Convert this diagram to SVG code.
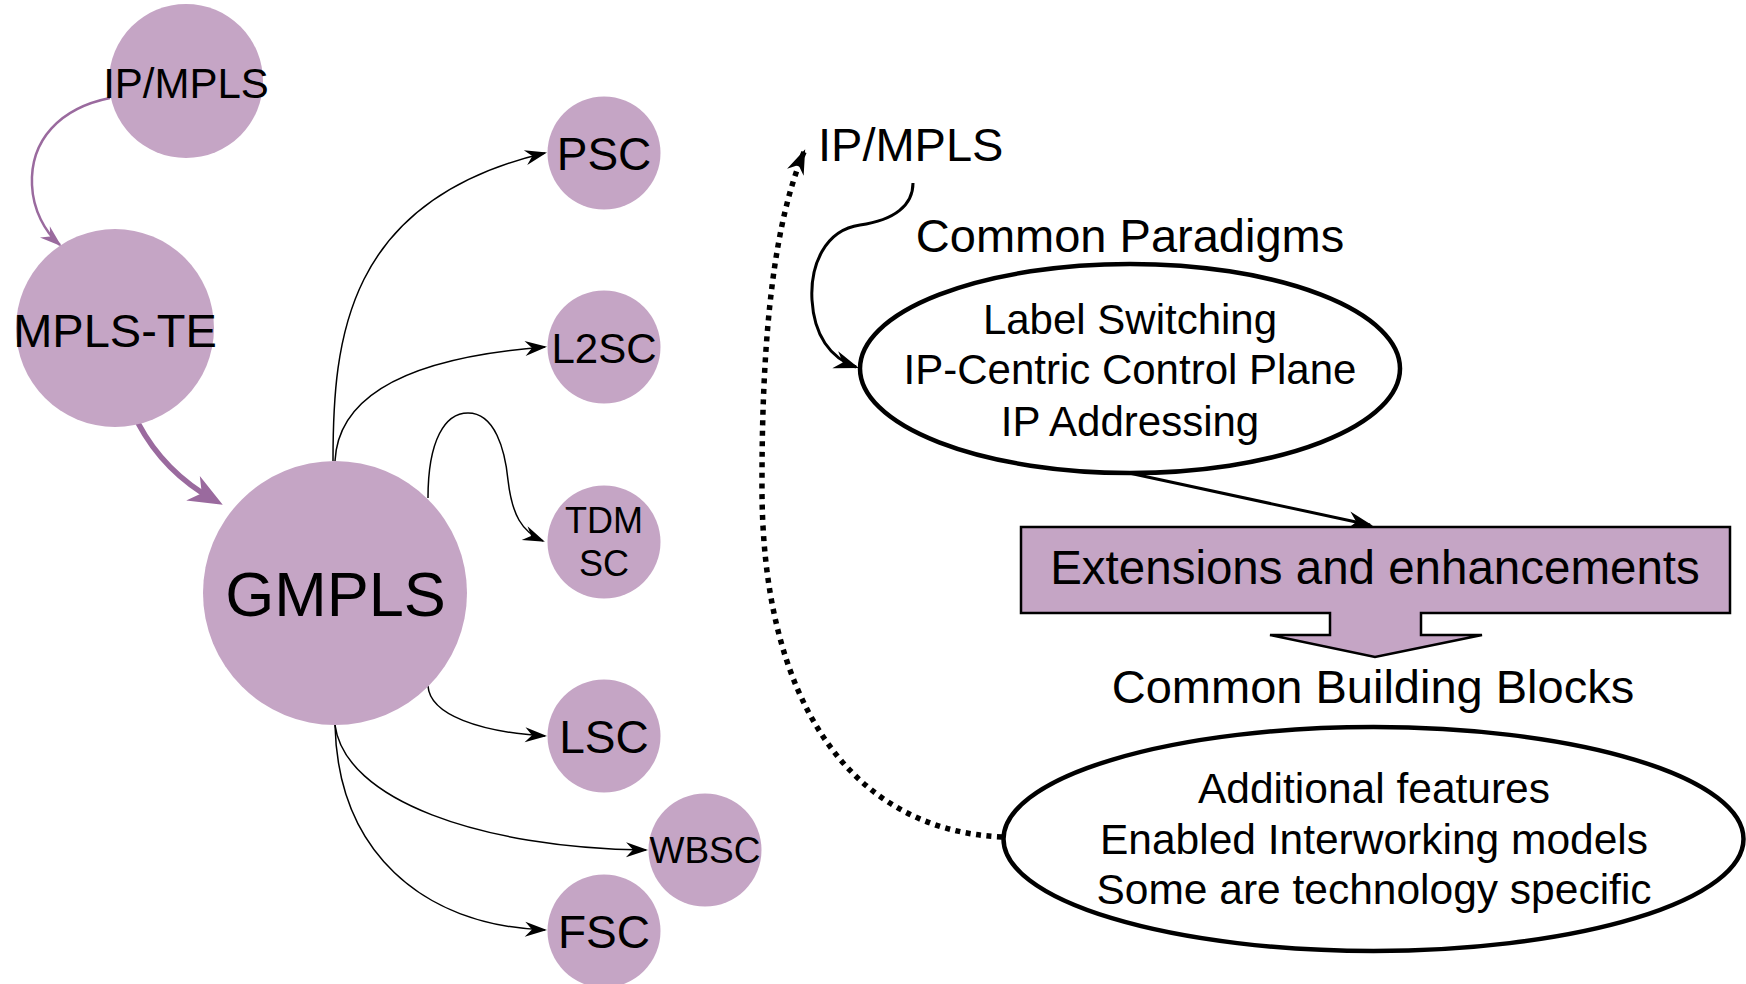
<svg xmlns="http://www.w3.org/2000/svg" width="1746" height="984" viewBox="0 0 1746 984">
<style>
text { font-family: "Liberation Sans", Arial, sans-serif; fill: #000; }
.node { fill: #c5a5c5; }
.c { text-anchor: middle; }
.thin { fill: none; stroke: #000; stroke-width: 1.5; }
.med { fill: none; stroke: #000; stroke-width: 3; }
.ell { fill: #fff; stroke: #000; stroke-width: 4.5; }
</style>
<defs>
<marker id="aB" markerUnits="userSpaceOnUse" viewBox="-22 -10 26 20" markerWidth="26" markerHeight="20" refX="0" refY="0" orient="auto">
<path d="M2,0 L-20,-7.5 L-13,0 L-20,7.5 Z" fill="#000"/>
</marker>
<marker id="aBM" markerUnits="userSpaceOnUse" viewBox="-26 -12 30 24" markerWidth="30" markerHeight="24" refX="0" refY="0" orient="auto">
<path d="M3,0 L-22,-9 L-14,0 L-22,9 Z" fill="#000"/>
</marker>
<marker id="aP" markerUnits="userSpaceOnUse" viewBox="-22 -10 26 20" markerWidth="26" markerHeight="20" refX="0" refY="0" orient="auto">
<path d="M2,0 L-20,-7.5 L-13,0 L-20,7.5 Z" fill="#9a6a9e"/>
</marker>
<marker id="aPB" markerUnits="userSpaceOnUse" viewBox="-34 -16 48 32" markerWidth="48" markerHeight="32" refX="0" refY="0" orient="auto">
<path d="M10,0 L-24,-14 L-14,0 L-24,14 Z" fill="#9a6a9e"/>
</marker>
</defs>

<g id="connectors">
<path d="M110,98 C60,108 30,140 32,185 C33,210 45,232 60,245" fill="none" stroke="#9a6a9e" stroke-width="2.5" marker-end="url(#aP)"/>
<path d="M138,423 C155,455 178,480 214,500" fill="none" stroke="#9a6a9e" stroke-width="5.5" marker-end="url(#aPB)"/>
<path class="thin" d="M333,461 C333,340 345,200 545,153" marker-end="url(#aB)"/>
<path class="thin" d="M335,461 C338,400 400,358 545,347" marker-end="url(#aB)"/>
<path class="thin" d="M428,498 C428,440 445,413 468,413 C495,413 505,450 508,480 C512,515 522,532 543,541" marker-end="url(#aB)"/>
<path class="thin" d="M428,686 C430,715 480,732 545,736" marker-end="url(#aB)"/>
<path class="thin" d="M335,725 C345,800 480,848 646,850" marker-end="url(#aB)"/>
<path class="thin" d="M335,725 C338,850 420,925 545,930" marker-end="url(#aB)"/>
<path d="M1002,837 C850,830 760,700 762,480 C762,330 775,220 804,152" fill="none" stroke="#000" stroke-width="5.5" stroke-dasharray="5 5.5" marker-end="url(#aBM)"/>
<path class="med" d="M913,183 C913,205 895,220 860,225 C825,230 810,265 812,300 C814,335 830,358 856,367" marker-end="url(#aBM)"/>
<path class="med" d="M1129,473 L1370,525" marker-end="url(#aBM)"/>
</g>

<g id="n-ipmpls-left">
<circle class="node" cx="186" cy="81" r="77"/>
<text class="c" x="186" y="98" font-size="42">IP/MPLS</text>
</g>
<g id="n-mplste">
<circle class="node" cx="115" cy="328" r="99"/>
<text class="c" x="115" y="347" font-size="47">MPLS-TE</text>
</g>
<g id="n-gmpls">
<circle class="node" cx="335" cy="593" r="132"/>
<text class="c" x="335.5" y="616" font-size="63">GMPLS</text>
</g>
<g id="n-psc">
<circle class="node" cx="604" cy="153" r="56.5"/>
<text class="c" x="604" y="170" font-size="46">PSC</text>
</g>
<g id="n-l2sc">
<circle class="node" cx="604" cy="347" r="56.5"/>
<text class="c" x="604" y="363" font-size="42">L2SC</text>
</g>
<g id="n-tdmsc">
<circle class="node" cx="604" cy="542" r="56.5"/>
<text class="c" x="604" y="533" font-size="36">TDM</text>
<text class="c" x="604" y="576" font-size="36">SC</text>
</g>
<g id="n-lsc">
<circle class="node" cx="604" cy="736" r="56.5"/>
<text class="c" x="604" y="753" font-size="46">LSC</text>
</g>
<g id="n-wbsc">
<circle class="node" cx="705" cy="850" r="56.5"/>
<text class="c" x="705" y="863" font-size="37">WBSC</text>
</g>
<g id="n-fsc">
<circle class="node" cx="604" cy="931" r="56.5"/>
<text class="c" x="604" y="948" font-size="46">FSC</text>
</g>

<g id="n-ipmpls-right">
<text x="818" y="161" font-size="47">IP/MPLS</text>
</g>
<g id="n-paradigms">
<text class="c" x="1130" y="252" font-size="47">Common Paradigms</text>
<ellipse class="ell" cx="1130" cy="368.5" rx="270" ry="104.5"/>
<text class="c" x="1130" y="334" font-size="42">Label Switching</text>
<text class="c" x="1130" y="384" font-size="42">IP-Centric Control Plane</text>
<text class="c" x="1130" y="436" font-size="42">IP Addressing</text>
</g>
<g id="n-extensions">
<polygon points="1021,527 1730,527 1730,613 1421,613 1421,635 1482,635 1375,657 1270,635 1330,635 1330,613 1021,613" fill="#c5a5c5" stroke="#000" stroke-width="2.5"/>
<text class="c" x="1375" y="584" font-size="47.5">Extensions and enhancements</text>
</g>
<g id="n-building">
<text class="c" x="1373" y="703" font-size="47">Common Building Blocks</text>
<ellipse class="ell" cx="1373.5" cy="839" rx="370" ry="112"/>
<text class="c" x="1374" y="803" font-size="42.5">Additional features</text>
<text class="c" x="1374" y="854" font-size="42.5">Enabled Interworking models</text>
<text class="c" x="1374" y="904" font-size="42.5">Some are technology specific</text>
</g>
</svg>
